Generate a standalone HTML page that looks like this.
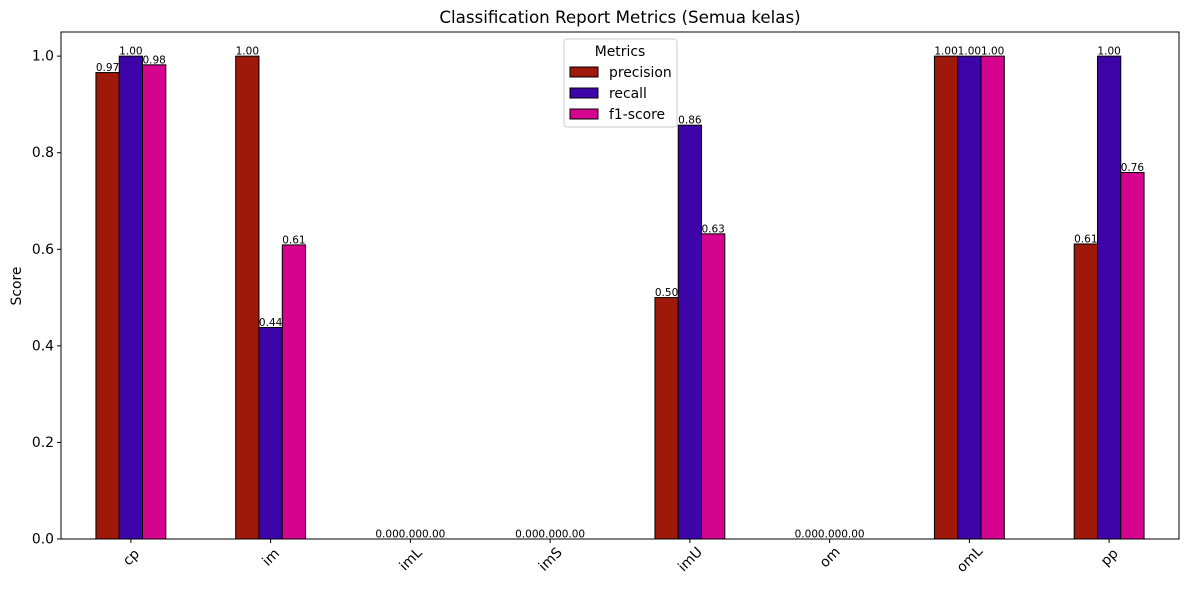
<!DOCTYPE html>
<html><head><meta charset="utf-8"><style>
body{margin:0;background:#fff;font-family:"Liberation Sans","DejaVu Sans",sans-serif}
</style></head><body>
<svg width="1189" height="590" xmlns="http://www.w3.org/2000/svg" font-family="DejaVu Sans, Liberation Sans, sans-serif">
<rect width="1189" height="590" fill="#fff"/>
<text x="620" y="23" font-size="16.7" text-anchor="middle">Classification Report Metrics (Semua kelas)</text>
<text transform="translate(21,286) rotate(-90)" font-size="13.9" text-anchor="middle">Score</text>
<g id="plot"></g>
<rect x="61" y="32" width="1118" height="507" fill="none" stroke="#000" stroke-width="1"/>
<g>
<rect x="564" y="39" width="113" height="88" rx="3" fill="#fff" fill-opacity="0.8" stroke="#ccc"/>
<text x="620" y="56" font-size="13.9" text-anchor="middle">Metrics</text>
<rect x="570" y="67" width="28" height="10" fill="#9e1909" stroke="#000"/>
<text x="609" y="77" font-size="13.9">precision</text>
<rect x="570" y="88" width="28" height="10" fill="#3d04a8" stroke="#000"/>
<text x="609" y="98" font-size="13.9">recall</text>
<rect x="570" y="109" width="28" height="10" fill="#d4048f" stroke="#000"/>
<text x="609" y="119" font-size="13.9">f1-score</text>
</g>
</svg>
<script>
const categories=["cp","im","imL","imS","imU","om","omL","pp"];
const precision=[0.966,1.0,0,0,0.5,0,1.0,0.611];
const recall=[1.0,0.438,0,0,0.857,0,1.0,1.0];
const f1=[0.982,0.609,0,0,0.632,0,1.0,0.759];
const yTicks=[0,0.2,0.4,0.6,0.8,1.0];
const series=[{name:"precision",v:precision,c:"#9e1909"},{name:"recall",v:recall,c:"#3d04a8"},{name:"f1-score",v:f1,c:"#d4048f"}];
const L=61,R=1179,T=32,B=539;
const x=i=>L+(i+0.5)*(R-L)/categories.length;
const y=v=>B-v*(B-T)/1.05;
const step=(R-L)/categories.length, bw=step*0.5/3;
const NS="http://www.w3.org/2000/svg";
const g=document.getElementById("plot");
function mk(t,a){const e=document.createElementNS(NS,t);for(const k in a)e.setAttribute(k,a[k]);g.appendChild(e);return e;}
yTicks.forEach(t=>{
  const l=mk("line",{x1:L-4,x2:L,y1:y(t),y2:y(t),stroke:"#000"});
  
  
  const tx=mk("text",{x:L-7,y:y(t)+4.5,"font-size":13.9,"text-anchor":"end"});
  tx.textContent=t.toFixed(1);
  
  
});
categories.forEach((c,i)=>{
  const l=mk("line",{x1:x(i),x2:x(i),y1:B,y2:B+4,stroke:"#000"});
  
  
  const tx=mk("text",{x:0,y:0,dy:"0.35em","font-size":13.9,"text-anchor":"middle",transform:`translate(${x(i)},${B+14+c.length*2}) rotate(-45)`});
  tx.textContent=c;
  
  
  series.forEach((s,j)=>{
    const v=s.v[i], cx=x(i)+(j-1)*bw;
    const r=mk("rect",{x:cx-bw/2,y:y(v),width:bw,height:B-y(v),fill:s.c,stroke:"#000","stroke-width":1});
    
    
    const t=mk("text",{x:cx,y:y(v)-1.5,"font-size":10.5,"text-anchor":"middle"});
    t.textContent=v.toFixed(2);
    
    
  });
});
</script>
</body></html>
